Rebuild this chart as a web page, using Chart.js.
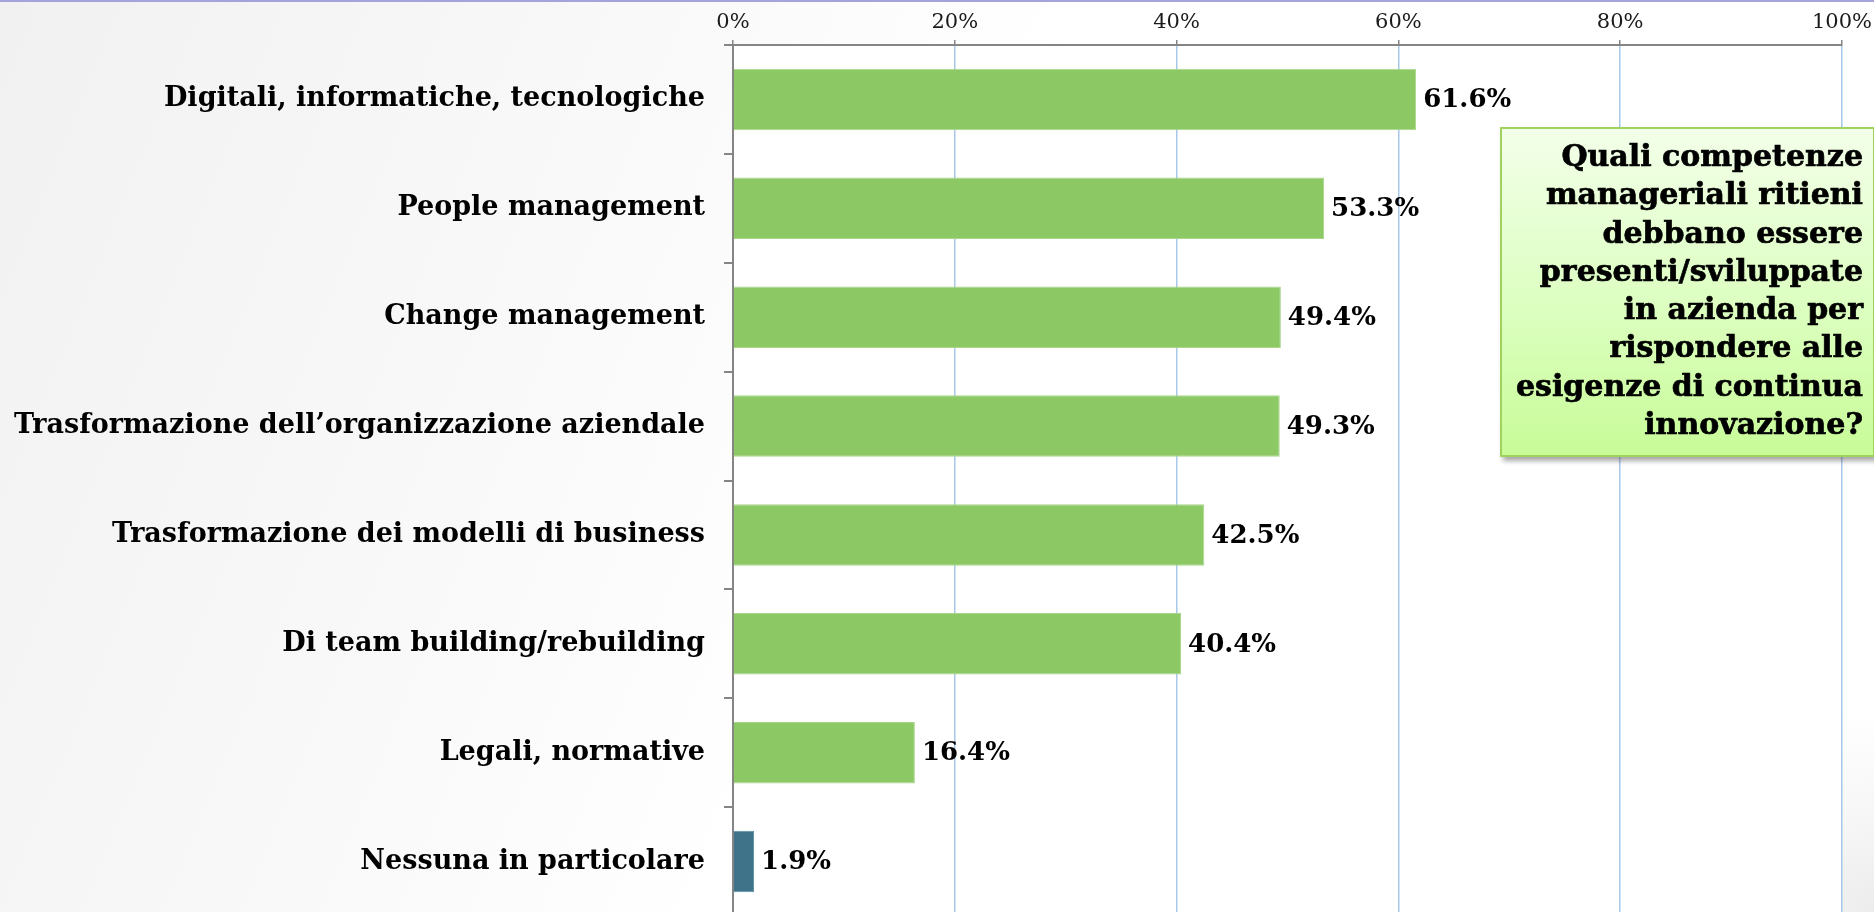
<!DOCTYPE html>
<html>
<head>
<meta charset="utf-8">
<script src="https://cdn.jsdelivr.net/npm/chart.js@4"></script>
<style>
    html, body {
        margin: 0;
        padding: 0;
        width: 1874px;
        height: 912px;
        overflow: hidden;
    }
    body {
        position: relative;
        background:
            radial-gradient(circle at 100% 100%, #ececec 0px, #f6f6f6 90px, rgba(255,255,255,0) 200px),
            linear-gradient(112deg, #f1f1f1 0%, #f7f7f7 22%, #fbfbfb 36%, #ffffff 48%);
    }
    #topLine {
        position: absolute;
        left: 0; top: 0;
        width: 1874px; height: 2px;
        background: #a3a3dd;
    }
    #wrap {
        position: absolute;
        left: 0; top: 0;
        width: 1874px; height: 918px;
    }
    #question {
        position: absolute;
        left: 1500px; top: 127px;
        width: 361px; height: 318px;
        box-sizing: content-box;
        border: 2px solid #9fd35e;
        background: linear-gradient(#f3ffe9, #dcffc0 55%, #c8fb98);
        box-shadow: 3px 4px 5px rgba(0,0,0,0.35);
        text-align: right;
        font-family: "DejaVu Serif", serif;
        font-weight: bold;
        font-size: 30px;
        line-height: 38.3px;
        -webkit-text-stroke: 0.7px #000;
        padding: 8px 10px 0 0;
        color: #000;
        white-space: nowrap;
    }
</style>
</head>
<body>
<div id="topLine"></div>
<div id="wrap"><canvas id="competenzeChart" width="1874" height="918"></canvas></div>
<div id="question">Quali competenze<br>manageriali ritieni<br>debbano essere<br>presenti/sviluppate<br>in azienda per<br>rispondere alle<br>esigenze di continua<br>innovazione?</div>
<script>
const categories = [
    'Digitali, informatiche, tecnologiche',
    'People management',
    'Change management',
    'Trasformazione dell\u2019organizzazione aziendale',
    'Trasformazione dei modelli di business',
    'Di team building/rebuilding',
    'Legali, normative',
    'Nessuna in particolare'
];
const percentages = [61.6, 53.3, 49.4, 49.3, 42.5, 40.4, 16.4, 1.9];
const tickValues = [0, 20, 40, 60, 80, 100];

const green = '#8cc965';
const teal = '#3f7389';
const barColors = categories.map((c, i) => i === categories.length - 1 ? teal : green);
const barEdges = categories.map((c, i) => i === categories.length - 1 ? '#5e8ea1' : '#a9d78a');

// white plot area behind the bars
const plotBackground = {
    id: 'plotBackground',
    beforeDraw(chart) {
        const a = chart.chartArea;
        const ctx = chart.ctx;
        ctx.save();
        ctx.fillStyle = '#ffffff';
        ctx.fillRect(a.left, a.top, a.right - a.left, a.bottom - a.top);
        ctx.restore();
    }
};

// value labels at the end of each bar
const valueLabels = {
    id: 'valueLabels',
    afterDatasetsDraw(chart) {
        const ctx = chart.ctx;
        const meta = chart.getDatasetMeta(0);
        ctx.save();
        ctx.font = 'bold 26px "DejaVu Serif"';
        ctx.fillStyle = '#000';
        ctx.textBaseline = 'middle';
        ctx.textAlign = 'left';
        meta.data.forEach((bar, i) => {
            ctx.fillText(percentages[i].toFixed(1) + '%', bar.x + 7, bar.y + 1);
        });
        ctx.restore();
    }
};

const ctx = document.getElementById('competenzeChart').getContext('2d');
new Chart(ctx, {
    type: 'bar',
    data: {
        labels: categories,
        datasets: [{
            data: percentages,
            backgroundColor: barColors,
            borderColor: barEdges,
            borderWidth: 1,
            barPercentage: 0.565,
            categoryPercentage: 1
        }]
    },
    options: {
        indexAxis: 'y',
        responsive: false,
        animation: false,
        layout: {
            padding: { left: 0, right: 32, top: 0, bottom: 2 }
        },
        plugins: {
            legend: { display: false },
            tooltip: { enabled: false }
        },
        scales: {
            x: {
                position: 'top',
                min: 0,
                max: 100,
                afterBuildTicks(scale) {
                    scale.ticks = tickValues.map(v => ({ value: v }));
                },
                afterFit(scale) {
                    scale.height = 45;
                    scale.paddingLeft = 0;
                    scale.paddingRight = 0;
                },
                ticks: {
                    callback: v => v + '%',
                    color: '#1a1a1a',
                    padding: 5,
                    maxRotation: 0,
                    font: { family: 'DejaVu Serif', size: 21 }
                },
                grid: {
                    color: '#a8c8ea',
                    lineWidth: 1.5,
                    tickColor: '#858585',
                    tickLength: 5
                },
                border: { color: '#858585', width: 2 }
            },
            y: {
                afterFit(scale) {
                    scale.width = 733;
                    scale.paddingTop = 0;
                    scale.paddingBottom = 0;
                },
                ticks: {
                    color: '#000',
                    padding: 19,
                    font: { family: 'DejaVu Serif', size: 27, weight: 'bold' }
                },
                grid: {
                    offset: true,
                    drawOnChartArea: false,
                    color: '#858585',
                    lineWidth: 2,
                    tickLength: 9
                },
                border: { color: '#858585', width: 2 }
            }
        }
    },
    plugins: [plotBackground, valueLabels]
});
</script>
</body>
</html>
